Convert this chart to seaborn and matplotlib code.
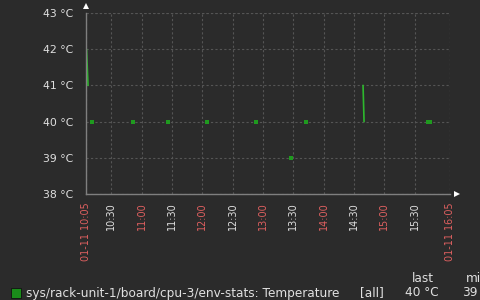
import numpy as np
import pandas as pd
import matplotlib
matplotlib.use("Agg")
import matplotlib.pyplot as plt
import seaborn as sns

# minutes after 10:05 and temperature values
seg_ids = [0, 0, 1, 1]
seg_t = [0.5, 2.0, 274.0, 275.0]
seg_v = [42.0, 41.0, 41.0, 40.0]

pt_t = [6, 46, 81, 120, 168, 203, 218, 338, 340]
pt_v = [40, 40, 40, 40, 40, 39, 40, 40, 40]

tick_minutes = [0, 25, 55, 85, 115, 145, 175, 205, 235, 265, 295, 325, 360]
tick_labels = ["01-11 10:05", "10:30", "11:00", "11:30", "12:00", "12:30", "13:00",
               "13:30", "14:00", "14:30", "15:00", "15:30", "01-11 16:05"]
red_ticks = ["01-11 10:05", "11:00", "12:00", "13:00", "14:00", "15:00", "01-11 16:05"]

y_ticks = [38, 39, 40, 41, 42, 43]
y_labels = ["38 °C", "39 °C", "40 °C", "41 °C", "42 °C", "43 °C"]

legend_name = "sys/rack-unit-1/board/cpu-3/env-stats: Temperature"
legend_func = "[all]"
legend_last = "40 °C"
legend_min = "39"

BG = "#2b2b2b"
GREEN = "#1f9a1f"
GRID = "#555555"
AXC = "#7f7f7f"
TXT = "#e0e0e0"
RED = "#e06060"

sns.set_theme(style="dark")
plt.rcParams["font.family"] = ["DejaVu Sans"]

fig = plt.figure(figsize=(4.81, 3.0), dpi=100, facecolor=BG)
ax = fig.add_axes([86 / 481, (300 - 194) / 300, (450 - 86) / 481, (194 - 13) / 300])
ax.set_facecolor(BG)

seg_df = pd.DataFrame({"t": seg_t, "v": seg_v, "seg": seg_ids})
sns.lineplot(data=seg_df, x="t", y="v", units="seg", estimator=None, color="#2db82d",
             linewidth=1.2, ax=ax, legend=False)
pt_df = pd.DataFrame({"t": pt_t, "v": pt_v})
sns.scatterplot(data=pt_df, x="t", y="v", marker="s", s=6, color=GREEN, linewidth=0,
                ax=ax, legend=False)

ax.set_xlim(0, 360)
ax.set_ylim(38, 43)
ax.set_xticks(tick_minutes)
ax.set_xticklabels(tick_labels, rotation=90, fontsize=6.9)
for lab in ax.get_xticklabels():
    lab.set_color(RED if lab.get_text() in red_ticks else TXT)
ax.set_yticks(y_ticks)
ax.set_yticklabels(y_labels, fontsize=7.8, color=TXT)
ax.set_xlabel("")
ax.set_ylabel("")
ax.tick_params(axis="y", length=3, color=AXC, pad=6)
ax.tick_params(axis="x", length=0, color=AXC, pad=6)

ax.grid(True, color=GRID, linestyle=(0, (2, 2)), linewidth=0.8)
for s in ["top", "right"]:
    ax.spines[s].set_visible(False)
for s in ["left", "bottom"]:
    ax.spines[s].set_visible(True)
    ax.spines[s].set_color(AXC)
    ax.spines[s].set_linewidth(1)
ax.axvline(360, color=GRID, linestyle=(0, (2, 2)), linewidth=0.8)
ax.axhline(43, color=GRID, linestyle=(0, (2, 2)), linewidth=0.8)

# axis arrows
fig.patches.append(matplotlib.patches.Polygon(
    [[83 / 481, 1 - 9 / 300], [89 / 481, 1 - 9 / 300], [86 / 481, 1 - 3 / 300]],
    closed=True, transform=fig.transFigure, facecolor="white", edgecolor="none"))
fig.patches.append(matplotlib.patches.Polygon(
    [[454 / 481, 1 - 191 / 300], [454 / 481, 1 - 197 / 300], [460 / 481, 1 - 194 / 300]],
    closed=True, transform=fig.transFigure, facecolor="white", edgecolor="none"))

# legend
fig.patches.append(matplotlib.patches.Rectangle(
    (11 / 481, 1 - 298 / 300), 10 / 481, 10 / 300, transform=fig.transFigure,
    facecolor="#1a8c1a", edgecolor="#111111", linewidth=0.6))
fs = 8.7
fig.text(26 / 481, 1 - 293 / 300, legend_name, fontsize=fs, color=TXT, va="center", ha="left")
fig.text(360 / 481, 1 - 293 / 300, legend_func, fontsize=fs, color=TXT, va="center", ha="left")
fig.text(405 / 481, 1 - 293 / 300, legend_last, fontsize=fs, color=TXT, va="center", ha="left")
fig.text(462 / 481, 1 - 293 / 300, legend_min, fontsize=fs, color=TXT, va="center", ha="left")
fig.text(412 / 481, 1 - 279 / 300, "last", fontsize=fs, color=TXT, va="center", ha="left")
fig.text(466 / 481, 1 - 279 / 300, "min", fontsize=fs, color=TXT, va="center", ha="left")

fig.savefig("out.png", dpi=100, facecolor=BG)
